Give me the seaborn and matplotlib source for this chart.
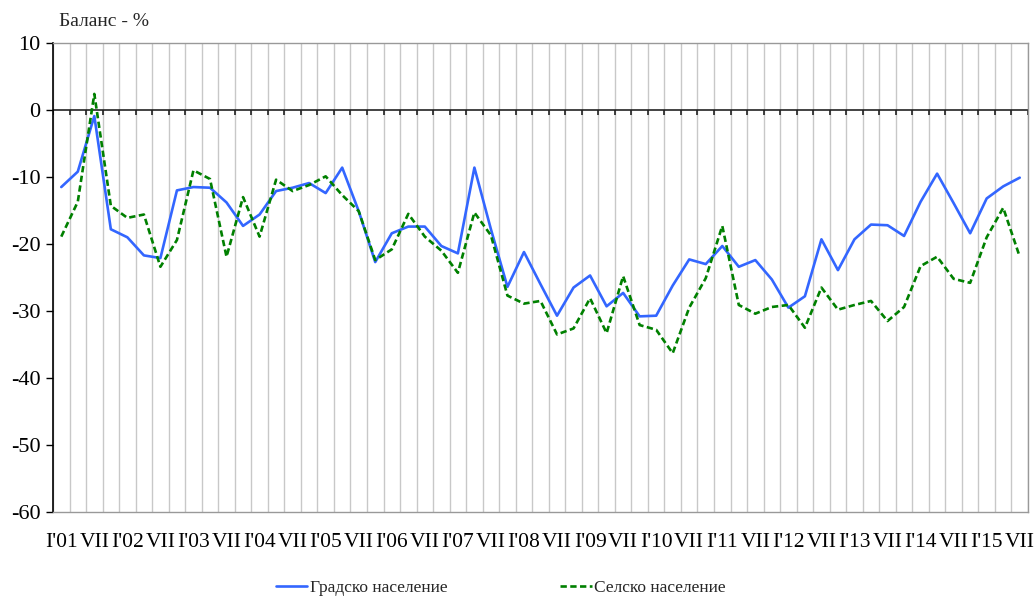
import numpy as np
import pandas as pd
import matplotlib
matplotlib.use("Agg")
import matplotlib.pyplot as plt
import seaborn as sns

# quarterly survey, I'01 .. VII'15
years = ["01", "02", "03", "04", "05", "06", "07", "08",
         "09", "10", "11", "12", "13", "14", "15"]
quarter_names = ["I", "IV", "VII", "X"]
n_points = 59

urban = [-11.5, -9.2, -0.9, -17.8, -19.0, -21.7, -22.1, -12.0, -11.5, -11.6,
         -13.8, -17.3, -15.6, -12.1, -11.6, -10.9, -12.4, -8.6, -15.1, -22.7,
         -18.4, -17.4, -17.4, -20.3, -21.4, -8.6, -17.8, -26.4, -21.2, -26.0,
         -30.7, -26.5, -24.7, -29.3, -27.3, -30.8, -30.7, -26.2, -22.3, -23.0,
         -20.3, -23.4, -22.4, -25.3, -29.5, -27.8, -19.3, -23.9, -19.3, -17.1,
         -17.2, -18.8, -13.7, -9.5, -13.9, -18.4, -13.2, -11.4, -10.1]
rural = [-18.9, -13.7, 2.4, -14.3, -16.1, -15.6, -23.4, -19.4, -9.0, -10.3,
         -21.9, -13.0, -18.9, -10.4, -12.1, -11.2, -9.9, -12.7, -15.1, -22.4,
         -20.8, -15.5, -18.9, -21.0, -24.3, -15.3, -18.7, -27.7, -28.9, -28.5,
         -33.5, -32.6, -28.1, -33.3, -24.8, -32.1, -32.8, -36.3, -29.5, -25.1,
         -17.3, -29.1, -30.4, -29.4, -29.1, -32.5, -26.5, -29.8, -29.1, -28.5,
         -31.5, -29.4, -23.3, -21.9, -25.2, -25.8, -19.0, -14.6, -21.9]
series_names = ["Градско население", "Селско население"]

labels = []
for y in years:
    for q in quarter_names:
        labels.append(q + "'" + y if q == "I" else q)
labels = labels[:n_points]
tick_labels = [lab if i % 2 == 0 else "" for i, lab in enumerate(labels)]

df = pd.DataFrame({
    "idx": list(range(n_points)) * 2,
    "value": urban + rural,
    "series": [series_names[0]] * n_points + [series_names[1]] * n_points,
})

sns.set_theme(style="white")
plt.rcParams["font.family"] = ["Liberation Serif", "DejaVu Serif"]
plt.rcParams["axes.unicode_minus"] = False

fig = plt.figure(figsize=(10.36, 5.99), dpi=100)
ax = fig.add_axes([53 / 1036, 1 - 512 / 599, (1028 - 53) / 1036, (512 - 43) / 599])

sns.lineplot(data=df, x="idx", y="value", hue="series", style="series",
             palette={series_names[0]: "#3366ff", series_names[1]: "#008000"},
             dashes={series_names[0]: "", series_names[1]: (2.4, 1.3)},
             linewidth=1.9, ax=ax, legend=False)

ax.set_xlim(-0.5, n_points - 0.5)
ax.set_ylim(-60, 10)
ax.set_yticks(np.arange(-60, 11, 10))
ax.set_xticks(np.arange(n_points))
ax.set_xticklabels(tick_labels)
ax.set_xticks(np.arange(n_points + 1) - 0.5, minor=True)
ax.grid(which="minor", axis="x", color="#c8c8c8", linewidth=1)
ax.grid(which="major", axis="both", visible=False)
ax.set_xlabel("")
ax.set_ylabel("")

ax.tick_params(axis="x", which="both", length=0, labelsize=15.5, pad=15, colors="black")
ax.tick_params(axis="y", which="major", direction="out", length=5, width=1,
               color="black", labelsize=16, pad=4, left=True, labelcolor="black")

for side in ["top", "right", "bottom"]:
    ax.spines[side].set_color("#999999")
    ax.spines[side].set_linewidth(1)
ax.spines["left"].set_color("black")
ax.spines["left"].set_linewidth(1.2)

# zero line with category tick marks
ax.axhline(0, color="#222222", linewidth=1.2, zorder=1)
ax.vlines(np.arange(n_points + 1) - 0.5, -0.8, 0, color="#222222", linewidth=1.2, zorder=1)

fig.text(59 / 1036, 1 - 22 / 599, "Баланс - %", fontsize=14, va="center", ha="left")

fig.legend(ax.get_lines()[:2], series_names, loc="center",
           bbox_to_anchor=(501 / 1036, 1 - 588 / 599), ncol=2, frameon=False,
           fontsize=12.5, handlelength=1.8, handletextpad=0.15, columnspacing=6.5)

fig.savefig("out.png", dpi=100)
